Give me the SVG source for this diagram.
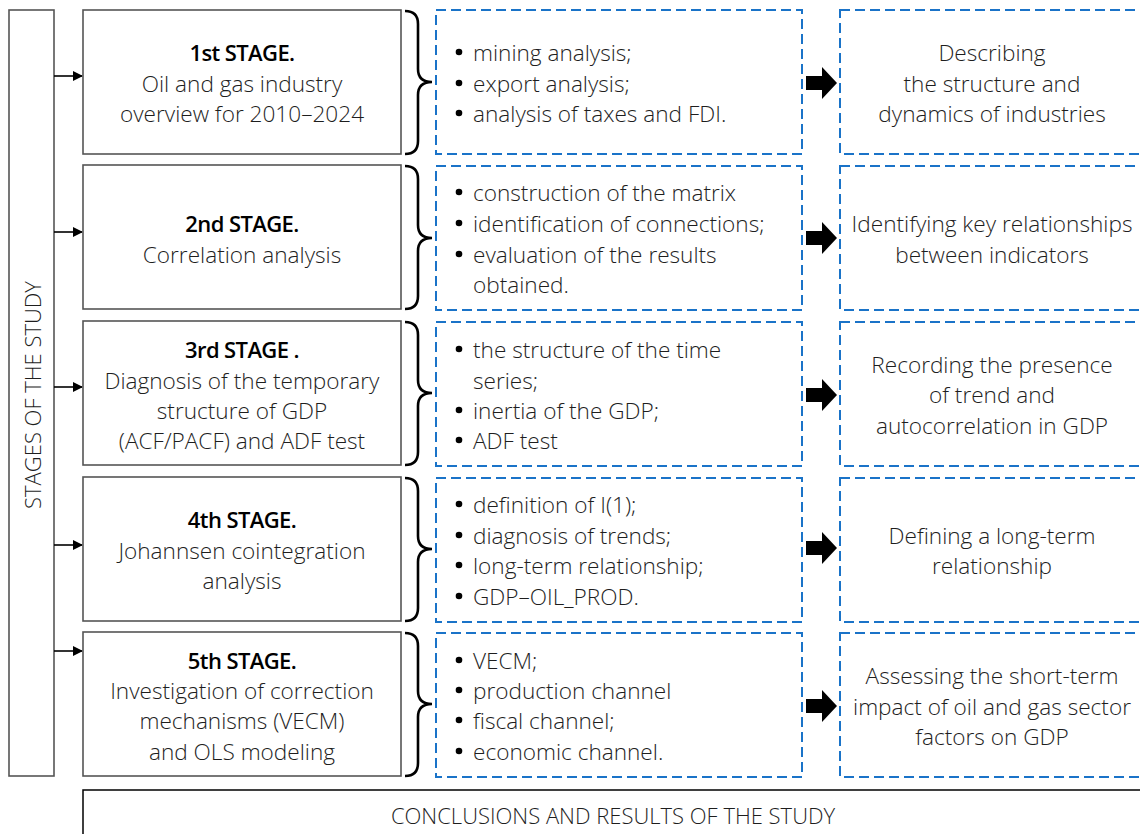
<svg xmlns="http://www.w3.org/2000/svg" width="1140" height="834" viewBox="0 0 1140 834">
<style>
text{font-family:"Open Sans","Noto Sans","Liberation Sans",sans-serif;font-size:22.6px;font-weight:300;fill:#1e1e1e;dominant-baseline:central}
.c{text-anchor:middle}
.t{font-size:22px;font-weight:600;fill:#000;letter-spacing:-0.6px}
.s{font-size:22px}
.stage{fill:#fff;stroke:#555;stroke-width:1.6}
.dash{fill:#fff;stroke:#1a73c8;stroke-width:2;stroke-dasharray:10 5}
.brace{fill:none;stroke:#000;stroke-width:2.6}
.fat{fill:#000}
.ln{stroke:#000;stroke-width:1.6}
.b{fill:#000}
</style>
<defs>
<marker id="ah" markerWidth="10" markerHeight="10" refX="9" refY="5" orient="auto" markerUnits="userSpaceOnUse" viewBox="0 0 10 10">
<path d="M0,0 L10,5 L0,10 Z" fill="#000"/>
</marker>
</defs>
<g id="stages-label">
<rect x="9" y="10" width="45" height="766" class="stage"/>
<text class="c s" transform="translate(32,395) rotate(-90)">STAGES OF THE STUDY</text>
</g>
<g id="connectors">
<line x1="54" y1="76" x2="82" y2="76" class="ln" marker-end="url(#ah)"/>
<line x1="54" y1="232" x2="82" y2="232" class="ln" marker-end="url(#ah)"/>
<line x1="54" y1="387" x2="82" y2="387" class="ln" marker-end="url(#ah)"/>
<line x1="54" y1="545" x2="82" y2="545" class="ln" marker-end="url(#ah)"/>
<line x1="54" y1="651" x2="82" y2="651" class="ln" marker-end="url(#ah)"/>
<path class="brace" d="M405,11 Q418,11 418,24 L418,69 Q418,82 432,82 Q418,82 418,95 L418,141 Q418,154 405,154"/>
<path class="brace" d="M405,166 Q418,166 418,179 L418,225 Q418,238 432,238 Q418,238 418,251 L418,296 Q418,309 405,309"/>
<path class="brace" d="M405,322 Q418,322 418,335 L418,380 Q418,393 432,393 Q418,393 418,406 L418,452 Q418,465 405,465"/>
<path class="brace" d="M405,478 Q418,478 418,491 L418,536 Q418,549 432,549 Q418,549 418,562 L418,608 Q418,621 405,621"/>
<path class="brace" d="M405,633 Q418,633 418,646 L418,691 Q418,704 432,704 Q418,704 418,717 L418,763 Q418,776 405,776"/>
<polygon class="fat" points="806,76 822,76 822,67 837,83 822,99 822,90 806,90"/>
<polygon class="fat" points="806,231 822,231 822,222 837,238 822,254 822,245 806,245"/>
<polygon class="fat" points="806,388 822,388 822,379 837,395 822,411 822,402 806,402"/>
<polygon class="fat" points="806,541 822,541 822,532 837,548 822,564 822,555 806,555"/>
<polygon class="fat" points="806,699 822,699 822,690 837,706 822,722 822,713 806,713"/>
</g>
<g id="stage1">
<rect x="83" y="10" width="318" height="144" class="stage"/>
<text class="c t" x="242" y="52">1st STAGE.</text>
<text class="c" x="242" y="83">Oil and gas industry</text>
<text class="c" x="242" y="113">overview for 2010–2024</text>
</g>
<g id="stage2">
<rect x="83" y="165" width="318" height="144" class="stage"/>
<text class="c t" x="242" y="223">2nd STAGE.</text>
<text class="c" x="242" y="254">Correlation analysis</text>
</g>
<g id="stage3">
<rect x="83" y="321" width="318" height="144" class="stage"/>
<text class="c t" x="242" y="349">3rd STAGE .</text>
<text class="c" x="242" y="380">Diagnosis of the temporary</text>
<text class="c" x="242" y="410">structure of GDP</text>
<text class="c" x="242" y="440">(ACF/PACF) and ADF test</text>
</g>
<g id="stage4">
<rect x="83" y="477" width="318" height="144" class="stage"/>
<text class="c t" x="242" y="519">4th STAGE.</text>
<text class="c" x="242" y="550">Johannsen cointegration</text>
<text class="c" x="242" y="580">analysis</text>
</g>
<g id="stage5">
<rect x="83" y="632" width="318" height="144" class="stage"/>
<text class="c t" x="242" y="660">5th STAGE.</text>
<text class="c" x="242" y="690">Investigation of correction</text>
<text class="c" x="242" y="720">mechanisms (VECM)</text>
<text class="c" x="242" y="751">and OLS modeling</text>
</g>
<g id="tasks1">
<rect x="436" y="10" width="366" height="144" class="dash"/>
<circle class="b" cx="459" cy="52" r="3.3"/><text x="473" y="52">mining analysis;</text>
<circle class="b" cx="459" cy="83" r="3.3"/><text x="473" y="83">export analysis;</text>
<circle class="b" cx="459" cy="113" r="3.3"/><text x="473" y="113">analysis of taxes and FDI.</text>
</g>
<g id="tasks2">
<rect x="436" y="166" width="366" height="144" class="dash"/>
<circle class="b" cx="459" cy="192" r="3.3"/><text x="473" y="192">construction of the matrix</text>
<circle class="b" cx="459" cy="223" r="3.3"/><text x="473" y="223">identification of connections;</text>
<circle class="b" cx="459" cy="254" r="3.3"/><text x="473" y="254">evaluation of the results</text>
<text x="473" y="284">obtained.</text>
</g>
<g id="tasks3">
<rect x="436" y="322" width="366" height="144" class="dash"/>
<circle class="b" cx="459" cy="349" r="3.3"/><text x="473" y="349">the structure of the time</text>
<text x="473" y="380">series;</text>
<circle class="b" cx="459" cy="410" r="3.3"/><text x="473" y="410">inertia of the GDP;</text>
<circle class="b" cx="459" cy="440" r="3.3"/><text x="473" y="440">ADF test</text>
</g>
<g id="tasks4">
<rect x="436" y="478" width="366" height="144" class="dash"/>
<circle class="b" cx="459" cy="504" r="3.3"/><text x="473" y="504">definition of I(1);</text>
<circle class="b" cx="459" cy="535" r="3.3"/><text x="473" y="535">diagnosis of trends;</text>
<circle class="b" cx="459" cy="565" r="3.3"/><text x="473" y="565">long-term relationship;</text>
<circle class="b" cx="459" cy="596" r="3.3"/><text x="473" y="596">GDP–OIL_PROD.</text>
</g>
<g id="tasks5">
<rect x="436" y="633" width="366" height="144" class="dash"/>
<circle class="b" cx="459" cy="660" r="3.3"/><text x="473" y="660">VECM;</text>
<circle class="b" cx="459" cy="690" r="3.3"/><text x="473" y="690">production channel</text>
<circle class="b" cx="459" cy="720" r="3.3"/><text x="473" y="720">fiscal channel;</text>
<circle class="b" cx="459" cy="751" r="3.3"/><text x="473" y="751">economic channel.</text>
</g>
<g id="result1">
<rect x="840" y="10" width="310" height="144" class="dash"/>
<text class="c" x="992" y="52">Describing</text>
<text class="c" x="992" y="83">the structure and</text>
<text class="c" x="992" y="113">dynamics of industries</text>
</g>
<g id="result2">
<rect x="840" y="166" width="310" height="144" class="dash"/>
<text class="c" x="992" y="223">Identifying key relationships</text>
<text class="c" x="992" y="254">between indicators</text>
</g>
<g id="result3">
<rect x="840" y="322" width="310" height="144" class="dash"/>
<text class="c" x="992" y="364">Recording the presence</text>
<text class="c" x="992" y="394">of trend and</text>
<text class="c" x="992" y="425">autocorrelation in GDP</text>
</g>
<g id="result4">
<rect x="840" y="478" width="310" height="144" class="dash"/>
<text class="c" x="992" y="535">Defining a long-term</text>
<text class="c" x="992" y="565">relationship</text>
</g>
<g id="result5">
<rect x="840" y="633" width="310" height="144" class="dash"/>
<text class="c" x="992" y="675">Assessing the short-term</text>
<text class="c" x="992" y="706">impact of oil and gas sector</text>
<text class="c" x="992" y="736">factors on GDP</text>
</g>
<g id="conclusions">
<rect x="83" y="790" width="1080" height="80" fill="#fff" stroke="#000" stroke-width="1.5"/>
<text class="c s" x="613" y="815">CONCLUSIONS AND RESULTS OF THE STUDY</text>
</g>
</svg>
